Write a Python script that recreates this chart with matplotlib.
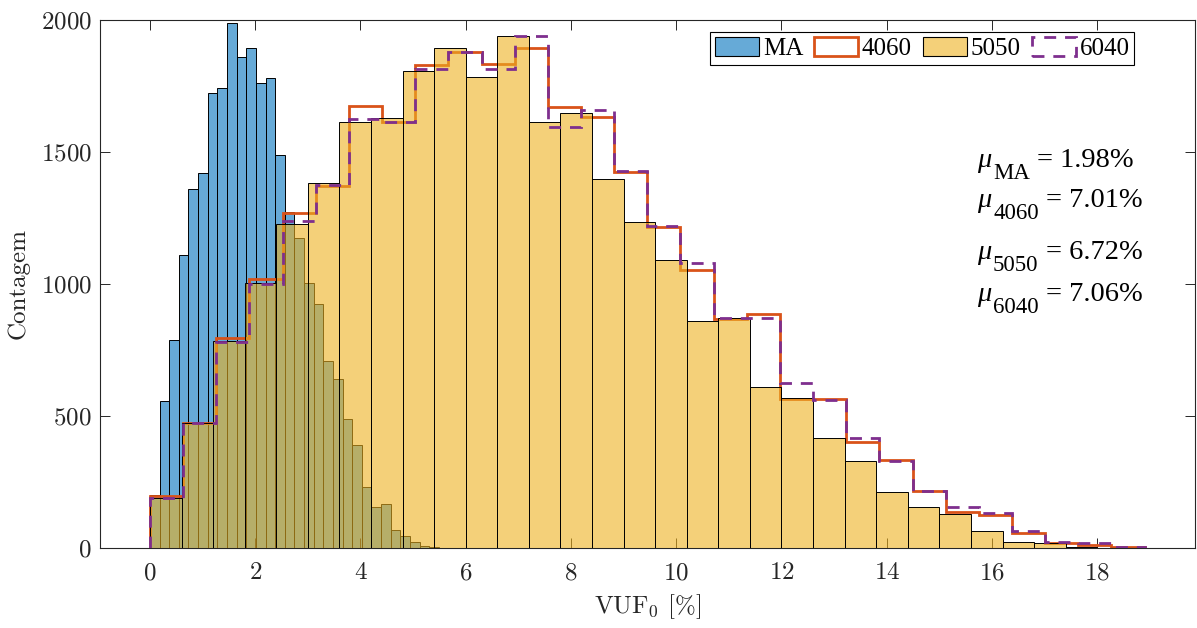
import numpy as np
import matplotlib
matplotlib.use("Agg")
import matplotlib.pyplot as plt
from matplotlib.patches import Patch

plt.rcParams["font.family"] = "serif"
plt.rcParams["font.serif"] = ["cmr10"]
plt.rcParams["mathtext.fontset"] = "cm"
plt.rcParams["axes.formatter.use_mathtext"] = True
plt.rcParams["axes.unicode_minus"] = False

# Histogram counts per bin (30 bins each, starting at 0)
ma_binwidth = 0.183
ma_counts = [201, 556, 788, 1111, 1359, 1422, 1725, 1741, 1989, 1860,
             1892, 1760, 1781, 1487, 1274, 1174, 1004, 923, 710, 641,
             490, 390, 231, 157, 165, 69, 45, 22, 8, 3]

c4060_binwidth = 0.630
c4060_counts = [198, 475, 795, 1017, 1268, 1372, 1675, 1615, 1831, 1878,
                1835, 1895, 1669, 1632, 1426, 1215, 1054, 867, 885, 564,
                564, 400, 333, 215, 137, 126, 58, 18, 13, 3]

c5050_binwidth = 0.600
c5050_counts = [190, 472, 783, 1005, 1229, 1382, 1614, 1630, 1808, 1893,
                1785, 1939, 1615, 1649, 1399, 1233, 1089, 861, 872, 610,
                569, 415, 331, 211, 157, 129, 63, 24, 18, 3]

c6040_binwidth = 0.630
c6040_counts = [189, 475, 781, 1001, 1237, 1376, 1625, 1614, 1816, 1878,
                1814, 1939, 1595, 1659, 1429, 1221, 1078, 870, 870, 624,
                561, 415, 331, 217, 154, 133, 63, 21, 18, 3]

series_labels = ["MA", "4060", "5050", "6040"]
mean_names = ["MA", "4060", "5050", "6040"]
mean_values = [1.98, 7.01, 6.72, 7.06]

x_ticks = [0, 2, 4, 6, 8, 10, 12, 14, 16, 18]
y_ticks = [0, 500, 1000, 1500, 2000]

# MATLAB default palette
blue = (0.0, 0.447, 0.741)
orange = (0.850, 0.325, 0.098)
yellow = (0.929, 0.694, 0.125)
purple = (0.494, 0.184, 0.556)
axis_gray = (0.15, 0.15, 0.15)
face_alpha = 0.6
text_font = "Liberation Serif"


def bin_edges(width, n):
    return np.arange(n + 1) * width


fig = plt.figure(figsize=(11.97, 6.28), dpi=100)
ax = fig.add_axes([0.0835, 0.1274, 0.9145, 0.8408])

e_ma = bin_edges(ma_binwidth, len(ma_counts))
ax.bar(e_ma[:-1], ma_counts, width=ma_binwidth, align="edge",
       facecolor=(*blue, face_alpha), edgecolor="black", linewidth=0.7,
       zorder=1)

e_4060 = bin_edges(c4060_binwidth, len(c4060_counts))
ax.stairs(c4060_counts, e_4060, baseline=0, fill=False, color=orange,
          linewidth=2.0, zorder=2)

e_5050 = bin_edges(c5050_binwidth, len(c5050_counts))
ax.bar(e_5050[:-1], c5050_counts, width=c5050_binwidth, align="edge",
       facecolor=(*yellow, face_alpha), edgecolor="black", linewidth=0.7,
       zorder=3)

e_6040 = bin_edges(c6040_binwidth, len(c6040_counts))
ax.stairs(c6040_counts, e_6040, baseline=0, fill=False, color=purple,
          linewidth=2.0, linestyle=(0, (4.3, 3.2)), zorder=4)

ax.set_xlim(-0.95, 19.85)
ax.set_ylim(0, 2000)
ax.set_xticks(x_ticks)
ax.set_yticks(y_ticks)
ax.tick_params(direction="in", length=7, width=0.7, colors=axis_gray,
               labelsize=18, top=True, right=True)
ax.tick_params(axis="x", pad=10)
ax.tick_params(axis="y", pad=6)
for s in ax.spines.values():
    s.set_color(axis_gray)
    s.set_linewidth(0.8)

ax.set_xlabel(r"VUF$_0$ [%]", fontsize=18, color=axis_gray, labelpad=6)
ax.set_ylabel("Contagem", fontsize=18, color=axis_gray, labelpad=8)

handles = [
    Patch(facecolor=(*blue, face_alpha), edgecolor="black", linewidth=0.8),
    Patch(facecolor="white", edgecolor=orange, linewidth=2.0),
    Patch(facecolor=(*yellow, face_alpha), edgecolor="black", linewidth=0.8),
    Patch(facecolor="none", edgecolor=purple, linewidth=2.0,
          linestyle=(0, (4.3, 3.2))),
]
leg = ax.legend(handles, series_labels, ncol=4, loc="upper right",
                bbox_to_anchor=(0.945, 0.978), frameon=True,
                prop={"family": text_font, "size": 18},
                fancybox=False, edgecolor="black", framealpha=1,
                handlelength=1.75, handleheight=0.8, handletextpad=0.15,
                columnspacing=0.45, borderpad=0.2, borderaxespad=0.0)
leg.get_frame().set_linewidth(0.8)

# Mean annotations: italic mu, lowered subscript, then "= value%"
renderer = fig.canvas.get_renderer()
to_axes = ax.transAxes.inverted()
main_size = 20.5
sub_size = 16.5
sub_drop_px = 12
x_left = 0.801
baselines = [0.7216, 0.6458, 0.5473, 0.4678]
for name, val, yb in zip(mean_names, mean_values, baselines):
    t_mu = ax.text(x_left, yb, "\u03bc", transform=ax.transAxes,
                   family=text_font, style="italic", fontsize=main_size,
                   va="baseline", ha="left", color="black")
    bb = t_mu.get_window_extent(renderer)
    _, y_disp = ax.transAxes.transform((x_left, yb))
    xs, ys = to_axes.transform((bb.x1 + 2, y_disp - sub_drop_px))
    t_sub = ax.text(xs, ys, name, transform=ax.transAxes, family=text_font,
                    fontsize=sub_size, va="baseline", ha="left",
                    color="black")
    bb2 = t_sub.get_window_extent(renderer)
    xe, _ = to_axes.transform((bb2.x1 + 7, y_disp))
    ax.text(xe, yb, f"= {val:.2f}%", transform=ax.transAxes,
            family=text_font, fontsize=main_size, va="baseline",
            ha="left", color="black")

fig.savefig("out.png", dpi=100)
